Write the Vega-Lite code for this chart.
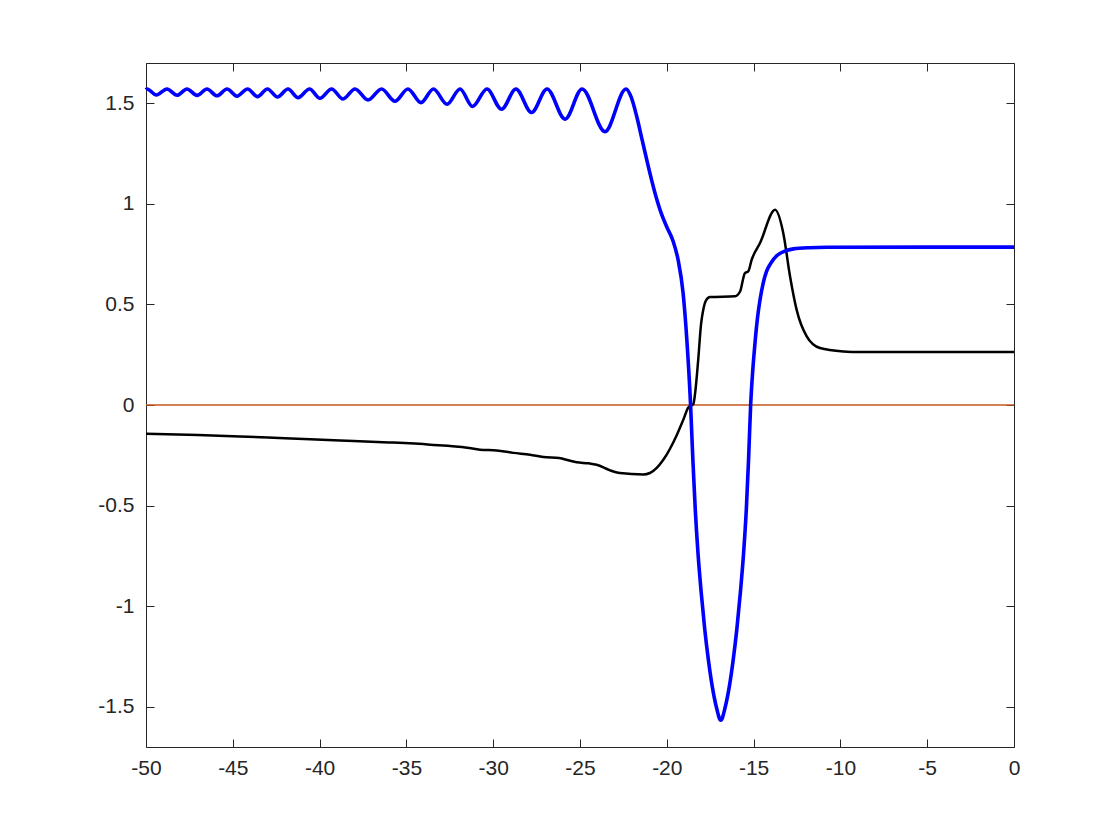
{
  "$schema": "https://vega.github.io/schema/vega-lite/v6.json",
  "width": 868,
  "height": 684,
  "autosize": {"type": "none"},
  "padding": {"left": 146, "top": 63, "right": 106, "bottom": 93},
  "background": "white",
  "config": {
    "view": {"stroke": null},
    "font": "Liberation Sans",
    "axis": {
      "grid": false,
      "domainColor": "#262626",
      "domainWidth": 1,
      "tickColor": "#262626",
      "tickWidth": 1,
      "tickSize": -8,
      "labelColor": "#262626",
      "labelFont": "Liberation Sans",
      "labelFontSize": 21,
      "labelFlush": false,
      "labelOverlap": false,
      "title": null
    }
  },
  "datasets": {
    "blue": [
      {"x": -50, "y": 1.567},
      {"x": -49.94, "y": 1.571}, {"x": -49.40, "y": 1.541},
      {"x": -48.79, "y": 1.571}, {"x": -48.21, "y": 1.540},
      {"x": -47.64, "y": 1.571}, {"x": -47.06, "y": 1.539},
      {"x": -46.49, "y": 1.571}, {"x": -45.91, "y": 1.537},
      {"x": -45.33, "y": 1.571}, {"x": -44.76, "y": 1.535},
      {"x": -44.15, "y": 1.571}, {"x": -43.58, "y": 1.533},
      {"x": -43.00, "y": 1.571}, {"x": -42.43, "y": 1.531},
      {"x": -41.82, "y": 1.571}, {"x": -41.24, "y": 1.528},
      {"x": -40.58, "y": 1.571}, {"x": -39.98, "y": 1.525},
      {"x": -39.31, "y": 1.571}, {"x": -38.65, "y": 1.521},
      {"x": -37.96, "y": 1.571}, {"x": -37.21, "y": 1.516},
      {"x": -36.43, "y": 1.571}, {"x": -35.66, "y": 1.510},
      {"x": -34.91, "y": 1.571}, {"x": -34.16, "y": 1.503},
      {"x": -33.44, "y": 1.571}, {"x": -32.66, "y": 1.495},
      {"x": -31.91, "y": 1.571}, {"x": -31.19, "y": 1.484},
      {"x": -30.36, "y": 1.571}, {"x": -29.52, "y": 1.470},
      {"x": -28.69, "y": 1.571}, {"x": -27.79, "y": 1.454},
      {"x": -26.90, "y": 1.571}, {"x": -25.86, "y": 1.421},
      {"x": -24.88, "y": 1.571}, {"x": -23.56, "y": 1.359},
      {"x": -22.35, "y": 1.571},
      {"x": -22.05, "y": 1.53},
      {"x": -21.75, "y": 1.44},
      {"x": -21.4, "y": 1.31},
      {"x": -21.05, "y": 1.18},
      {"x": -20.7, "y": 1.06},
      {"x": -20.35, "y": 0.96},
      {"x": -20.0, "y": 0.885},
      {"x": -19.64, "y": 0.815},
      {"x": -19.35, "y": 0.722},
      {"x": -19.06, "y": 0.556},
      {"x": -18.85, "y": 0.33},
      {"x": -18.63, "y": 0.0},
      {"x": -18.5, "y": -0.27},
      {"x": -18.36, "y": -0.52},
      {"x": -18.2, "y": -0.74},
      {"x": -18.02, "y": -0.93},
      {"x": -17.82, "y": -1.11},
      {"x": -17.6, "y": -1.27},
      {"x": -17.38, "y": -1.40},
      {"x": -17.15, "y": -1.50},
      {"x": -16.89, "y": -1.567},
      {"x": -16.63, "y": -1.50},
      {"x": -16.40, "y": -1.40},
      {"x": -16.18, "y": -1.27},
      {"x": -15.96, "y": -1.11},
      {"x": -15.76, "y": -0.93},
      {"x": -15.58, "y": -0.74},
      {"x": -15.42, "y": -0.52},
      {"x": -15.29, "y": -0.27},
      {"x": -15.17, "y": 0.0},
      {"x": -15.05, "y": 0.17},
      {"x": -14.92, "y": 0.308},
      {"x": -14.78, "y": 0.43},
      {"x": -14.63, "y": 0.523},
      {"x": -14.45, "y": 0.605},
      {"x": -14.25, "y": 0.665},
      {"x": -13.97, "y": 0.71},
      {"x": -13.67, "y": 0.742},
      {"x": -13.2, "y": 0.765},
      {"x": -12.71, "y": 0.776},
      {"x": -11.8, "y": 0.782},
      {"x": -10.79, "y": 0.784},
      {"x": -5, "y": 0.785},
      {"x": 0, "y": 0.785}
    ],
    "black": [
      {"x": -50, "y": -0.143},
      {"x": -47, "y": -0.149},
      {"x": -44.59, "y": -0.156},
      {"x": -42, "y": -0.165},
      {"x": -38.82, "y": -0.176},
      {"x": -36, "y": -0.186},
      {"x": -33.64, "y": -0.197},
      {"x": -31.5, "y": -0.212},
      {"x": -30.76, "y": -0.222},
      {"x": -29.80, "y": -0.226},
      {"x": -28.84, "y": -0.238},
      {"x": -27.88, "y": -0.247},
      {"x": -27.11, "y": -0.258},
      {"x": -26.2, "y": -0.263},
      {"x": -25.96, "y": -0.268},
      {"x": -25.19, "y": -0.285},
      {"x": -24.5, "y": -0.290},
      {"x": -24.04, "y": -0.297},
      {"x": -23.27, "y": -0.325},
      {"x": -22.70, "y": -0.338},
      {"x": -21.35, "y": -0.345},
      {"x": -20.97, "y": -0.338},
      {"x": -20.20, "y": -0.272},
      {"x": -19.43, "y": -0.150},
      {"x": -19.05, "y": -0.073},
      {"x": -18.76, "y": -0.012},
      {"x": -18.47, "y": 0.005},
      {"x": -18.38, "y": 0.05},
      {"x": -18.19, "y": 0.225},
      {"x": -18.03, "y": 0.40},
      {"x": -17.90, "y": 0.473},
      {"x": -17.74, "y": 0.52},
      {"x": -17.51, "y": 0.537},
      {"x": -16.07, "y": 0.540},
      {"x": -15.78, "y": 0.564},
      {"x": -15.50, "y": 0.656},
      {"x": -15.31, "y": 0.664},
      {"x": -15.11, "y": 0.722},
      {"x": -14.63, "y": 0.805},
      {"x": -13.76, "y": 0.970},
      {"x": -13.29, "y": 0.854},
      {"x": -12.90, "y": 0.639},
      {"x": -12.52, "y": 0.473},
      {"x": -11.94, "y": 0.341},
      {"x": -11.18, "y": 0.283},
      {"x": -9.83, "y": 0.266},
      {"x": -8.87, "y": 0.263},
      {"x": 0, "y": 0.263}
    ],
    "zero": [{"x": -50, "y": 0}, {"x": 0, "y": 0}]
  },
  "resolve": {"axis": {"x": "independent", "y": "independent"}},
  "layer": [
    {
      "data": {"name": "zero"},
      "mark": {"type": "line", "stroke": "#C4561C", "strokeWidth": 1.3},
      "encoding": {
        "x": {"field": "x", "type": "quantitative", "scale": {"domain": [-50, 0], "nice": false, "zero": false},
              "axis": {"orient": "bottom", "values": [-50, -45, -40, -35, -30, -25, -20, -15, -10, -5, 0], "labelExpr": "'' + datum.value", "labelPadding": 18, "labelFontSize": 21, "labelFont": "Liberation Sans"}},
        "y": {"field": "y", "type": "quantitative", "scale": {"domain": [-1.7, 1.7], "nice": false, "zero": false},
              "axis": {"orient": "left", "values": [-1.5, -1, -0.5, 0, 0.5, 1, 1.5], "labelExpr": "'' + datum.value", "labelPadding": 20, "labelFontSize": 21, "labelFont": "Liberation Sans"}}
      }
    },
    {
      "data": {"name": "black"},
      "mark": {"type": "line", "color": "#000000", "strokeWidth": 2.5, "interpolate": "monotone"},
      "encoding": {
        "x": {"field": "x", "type": "quantitative",
              "axis": {"orient": "top", "values": [-50, -45, -40, -35, -30, -25, -20, -15, -10, -5, 0], "labels": false}},
        "y": {"field": "y", "type": "quantitative",
              "axis": {"orient": "right", "values": [-1.5, -1, -0.5, 0, 0.5, 1, 1.5], "labels": false}}
      }
    },
    {
      "data": {"name": "blue"},
      "mark": {"type": "line", "color": "#0000FF", "strokeWidth": 3.6, "interpolate": "monotone"},
      "encoding": {
        "x": {"field": "x", "type": "quantitative", "axis": null},
        "y": {"field": "y", "type": "quantitative", "axis": null}
      }
    }
  ]
}
